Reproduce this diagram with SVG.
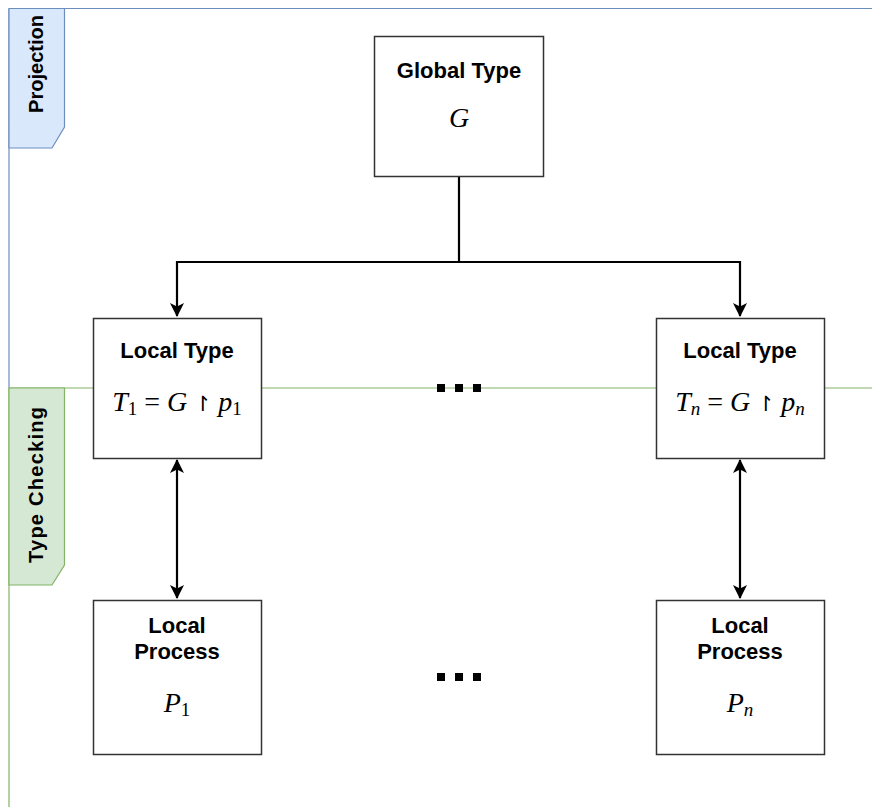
<svg xmlns="http://www.w3.org/2000/svg" width="872" height="807" viewBox="0 0 872 807">
<defs>
<style>
.box{fill:#fff;stroke:#333;stroke-width:1.5}
.title{font-family:"Liberation Sans",Arial,sans-serif;font-weight:bold;font-size:22px;fill:#000;text-anchor:middle}
.lane{font-family:"Liberation Sans",Arial,sans-serif;font-weight:bold;font-size:20px;fill:#000;text-anchor:middle}
.math{font-family:"Liberation Serif","DejaVu Serif",serif;font-size:28px;fill:#000;text-anchor:middle}
.it{font-style:italic}
.sub{font-size:19px}
.harp{font-family:"DejaVu Sans",sans-serif;font-size:21px}
.conn{fill:none;stroke:#000;stroke-width:2.2}
.dot{fill:#000}
</style>
<marker id="arr" viewBox="0 0 14 14" refX="13" refY="7" markerWidth="14" markerHeight="14" markerUnits="userSpaceOnUse" orient="auto-start-reverse">
<path d="M0,0 L14,7 L0,14 L3.5,7 Z" fill="#000"/>
</marker>
</defs>
<rect width="872" height="807" fill="#fff"/>
<g id="lanes">
<line x1="9" y1="8.5" x2="872" y2="8.5" stroke="#6c8ebf" stroke-width="1.2"/>
<line x1="9" y1="8.5" x2="9" y2="388" stroke="#6c8ebf" stroke-width="1.2"/>
<line x1="9" y1="388" x2="872" y2="388" stroke="#82b366" stroke-width="1.2"/>
<line x1="9" y1="388" x2="9" y2="807" stroke="#82b366" stroke-width="1.2"/>
</g>
<g id="label-projection">
<polygon points="9,8.5 64.5,8.5 64.5,127 52,148 9,148" fill="#dae8fc" stroke="#6c8ebf" stroke-width="1.2"/>
<text class="lane" font-size="18" transform="translate(43,64) rotate(-90)">Projection</text>
</g>
<g id="label-typechecking">
<polygon points="9,388 64.5,388 64.5,565 52,585 9,585" fill="#d5e8d4" stroke="#82b366" stroke-width="1.2"/>
<text class="lane" transform="translate(43,485) rotate(-90)" textLength="156" lengthAdjust="spacing">Type Checking</text>
</g>
<g id="connectors">
<path class="conn" d="M459,177 V262 H177 V316" marker-end="url(#arr)"/>
<path class="conn" d="M459,262 H740 V316" marker-end="url(#arr)"/>
<path class="conn" d="M177,460 V598" marker-start="url(#arr)" marker-end="url(#arr)"/>
<path class="conn" d="M740,460 V598" marker-start="url(#arr)" marker-end="url(#arr)"/>
</g>
<g id="global-type">
<rect class="box" x="374.5" y="36.5" width="169" height="140"/>
<text class="title" x="459" y="78">Global Type</text>
<text class="math" x="459" y="127"><tspan class="it">G</tspan></text>
</g>
<g id="local-type-1">
<rect class="box" x="93.5" y="318.5" width="168" height="140"/>
<text class="title" x="177" y="358">Local Type</text>
<text class="math" x="177" y="411"><tspan class="it">T</tspan><tspan class="sub" dy="4">1</tspan><tspan dy="-4"> = </tspan><tspan class="it">G</tspan><tspan class="harp"> ↾ </tspan><tspan class="it">p</tspan><tspan class="sub" dy="4">1</tspan></text>
</g>
<g id="local-type-n">
<rect class="box" x="656.5" y="318.5" width="168" height="140"/>
<text class="title" x="740" y="358">Local Type</text>
<text class="math" x="740" y="411"><tspan class="it">T</tspan><tspan class="it sub" dy="4">n</tspan><tspan dy="-4"> = </tspan><tspan class="it">G</tspan><tspan class="harp"> ↾ </tspan><tspan class="it">p</tspan><tspan class="it sub" dy="4">n</tspan></text>
</g>
<g id="local-process-1">
<rect class="box" x="93.5" y="600.5" width="168" height="154"/>
<text class="title" x="177" y="633">Local</text>
<text class="title" x="177" y="659">Process</text>
<text class="math" x="177" y="712"><tspan class="it">P</tspan><tspan class="sub" dy="4">1</tspan></text>
</g>
<g id="local-process-n">
<rect class="box" x="656.5" y="600.5" width="168" height="154"/>
<text class="title" x="740" y="633">Local</text>
<text class="title" x="740" y="659">Process</text>
<text class="math" x="740" y="712"><tspan class="it">P</tspan><tspan class="it sub" dy="4">n</tspan></text>
</g>
<g id="ellipsis-top">
<rect class="dot" x="437" y="384" width="8" height="8"/>
<rect class="dot" x="455" y="384" width="8" height="8"/>
<rect class="dot" x="473" y="384" width="8" height="8"/>
</g>
<g id="ellipsis-bottom">
<rect class="dot" x="437" y="673" width="8" height="8"/>
<rect class="dot" x="455" y="673" width="8" height="8"/>
<rect class="dot" x="473" y="673" width="8" height="8"/>
</g>
</svg>
